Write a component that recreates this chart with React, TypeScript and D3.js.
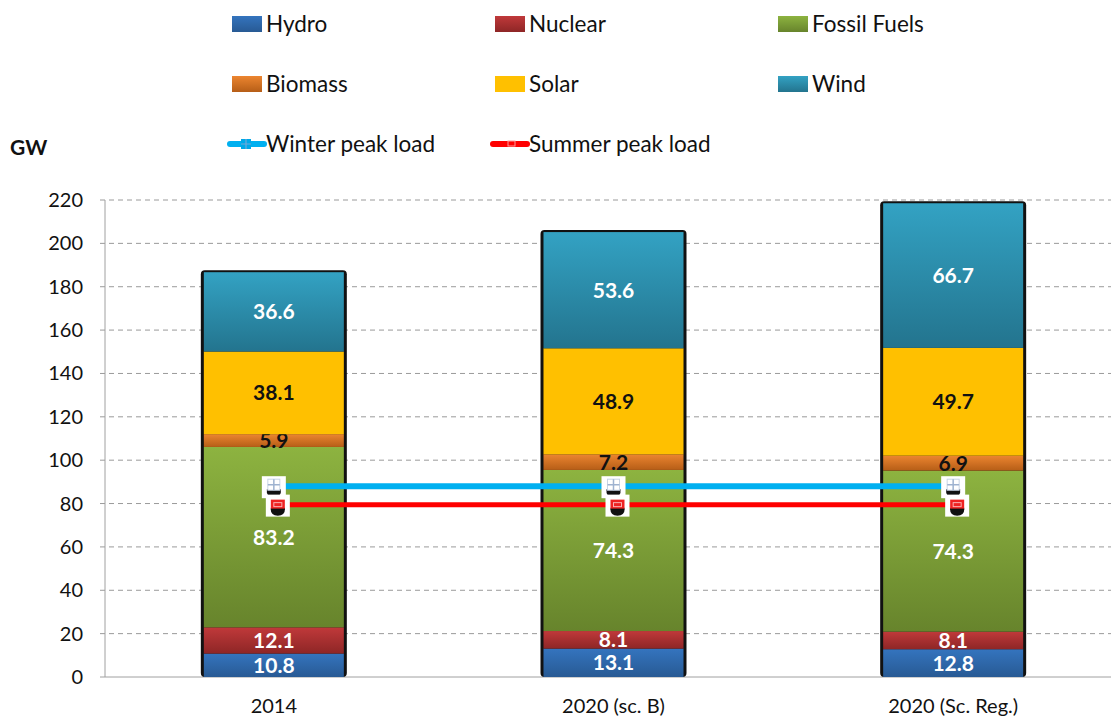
import React, { useEffect, useRef } from "react";
import * as d3 from "d3";

const categories = ["2014", "2020 (sc. B)", "2020 (Sc. Reg.)"];
const seriesNames = ["Hydro", "Nuclear", "Fossil Fuels", "Biomass", "Solar", "Wind"];
const hydro = [10.8, 13.1, 12.8];
const nuclear = [12.1, 8.1, 8.1];
const fossil = [83.2, 74.3, 74.3];
const biomass = [5.9, 7.2, 6.9];
const solar = [38.1, 48.9, 49.7];
const wind = [36.6, 53.6, 66.7];
const winterPeak = [88, 88, 88];
const summerPeak = [79.5, 79.5, 79.5];
const yTicks = [0, 20, 40, 60, 80, 100, 120, 140, 160, 180, 200, 220];

const colors: Record<string, [string, string]> = {
  Hydro: ["#3474BE", "#285A94"],
  Nuclear: ["#C0393A", "#8E2626"],
  "Fossil Fuels": ["#8DB340", "#67842C"],
  Biomass: ["#EC8530", "#B65E17"],
  Solar: ["#FFC000", "#FFC000"],
  Wind: ["#33A2C3", "#23748E"],
};
const labelColor: Record<string, string> = {
  Hydro: "#fff", Nuclear: "#fff", "Fossil Fuels": "#fff", Biomass: "#111", Solar: "#111", Wind: "#fff",
};

export default function App() {
  const ref = useRef<SVGSVGElement>(null);
  useEffect(() => {
    document.body.style.margin = "0";
    const svg = d3.select(ref.current!);
    svg.selectAll("*").remove();
    const font = "Lato, 'Open Sans', sans-serif";
    const data = [hydro, nuclear, fossil, biomass, solar, wind];
    const table = categories.map((c, i) => {
      const o: any = { cat: c };
      seriesNames.forEach((s, j) => (o[s] = data[j][i]));
      return o;
    });
    const stack = d3.stack<any>().keys(seriesNames)(table);

    const x = d3.scaleBand().domain(categories).range([104, 1123]).paddingInner(0).paddingOuter(0);
    const y = d3.scaleLinear().domain([0, 220]).range([677, 200]);
    const barW = 140;

    const defs = svg.append("defs");
    seriesNames.forEach((s, i) => {
      const g = defs.append("linearGradient").attr("id", "g" + i).attr("x1", 0).attr("x2", 0).attr("y1", 0).attr("y2", 1);
      g.append("stop").attr("offset", "0%").attr("stop-color", colors[s][0]);
      g.append("stop").attr("offset", "100%").attr("stop-color", colors[s][1]);
    });

    // grid
    svg.append("g").selectAll("line").data(yTicks.filter((t) => t > 0)).join("line")
      .attr("x1", 100).attr("x2", 1111).attr("y1", (d) => y(d)).attr("y2", (d) => y(d))
      .attr("stroke", "#9a9a9a").attr("stroke-dasharray", "5,4").attr("stroke-width", 1);
    // axes
    svg.append("line").attr("x1", 105).attr("x2", 105).attr("y1", y(220)).attr("y2", y(0)).attr("stroke", "#a0a0a0");
    svg.append("line").attr("x1", 100).attr("x2", 1111).attr("y1", y(0)).attr("y2", y(0)).attr("stroke", "#a0a0a0");
    svg.append("g").selectAll("text").data(yTicks).join("text")
      .attr("x", 83).attr("y", (d) => y(d)).attr("dy", "0.35em").attr("text-anchor", "end")
      .attr("font-family", font).attr("font-size", 20).attr("fill", "#111").text((d) => d);
    svg.append("g").selectAll("text").data(categories).join("text")
      .attr("x", (d) => x(d)! + x.bandwidth() / 2).attr("y", 713).attr("text-anchor", "middle")
      .attr("font-family", font).attr("font-size", 20).attr("fill", "#111").text((d) => d);

    // bar outlines
    const totals = table.map((r) => seriesNames.reduce((a, s) => a + r[s], 0));
    svg.append("g").selectAll("rect").data(categories).join("rect")
      .attr("x", (d) => x(d)! + x.bandwidth() / 2 - barW / 2 - 3)
      .attr("y", (d, i) => y(totals[i]) - 2)
      .attr("width", barW + 6)
      .attr("height", (d, i) => y(0) - y(totals[i]) + 2)
      .attr("rx", 4).attr("fill", "#111");

    stack.forEach((layer, li) => {
      const s = seriesNames[li];
      const g = svg.append("g");
      g.selectAll("rect").data(layer).join("rect")
        .attr("x", (d) => x(d.data.cat)! + x.bandwidth() / 2 - barW / 2)
        .attr("y", (d) => y(d[1]))
        .attr("width", barW)
        .attr("height", (d) => y(d[0]) - y(d[1]))
        .attr("fill", `url(#g${li})`);
      g.selectAll("text").data(layer).join("text")
        .attr("x", (d) => x(d.data.cat)! + x.bandwidth() / 2)
        .attr("y", (d) => (y(d[0]) + y(d[1])) / 2).attr("dy", "0.36em")
        .attr("text-anchor", "middle").attr("font-family", font).attr("font-weight", "bold")
        .attr("font-size", 21).attr("fill", labelColor[s])
        .text((d) => (d[1] - d[0]).toFixed(1));
    });

    // lines
    const cx = (i: number) => x(categories[i])! + x.bandwidth() / 2;
    const drawLine = (vals: number[], color: string, w: number, dx: number) => {
      const line = d3.line<number>().x((d, i) => cx(i) + dx).y((d) => y(d));
      svg.append("path").datum(vals).attr("d", line).attr("fill", "none").attr("stroke", color).attr("stroke-width", w);
    };
    drawLine(winterPeak, "#00B0F0", 6, 0);
    drawLine(summerPeak, "#FF0000", 5, 4);
    const drawMarker = (vals: number[], kind: string, dx: number) => {
      vals.forEach((v, i) => {
        const mx = cx(i) + dx, my = y(v);
        const g = svg.append("g").attr("transform", `translate(${mx},${my})`);
        g.append("rect").attr("x", -12).attr("y", -10).attr("width", 24).attr("height", 22).attr("fill", "#fff");
        g.append("path").attr("d", "M-7,3 Q-8,11 0,11 Q8,11 7,3 Z").attr("fill", "#111");
        if (kind === "plus") {
          g.append("rect").attr("x", -6).attr("y", -7).attr("width", 12).attr("height", 11).attr("fill", "#fff").attr("stroke", "#c8d4e4");
          g.append("path").attr("d", "M0,-7V4M-6,-1.5H6").attr("stroke", "#9fb3d0").attr("stroke-width", 1.5);
        } else {
          g.append("rect").attr("x", -7).attr("y", -5).attr("width", 14).attr("height", 9).attr("fill", "#ee2222");
          g.append("rect").attr("x", -4).attr("y", -2).attr("width", 8).attr("height", 4).attr("fill", "none").attr("stroke", "#f8b0b0");
        }
      });
    };
    drawMarker(winterPeak, "plus", 0);
    drawMarker(summerPeak, "rect", 4);

    // legend
    const cols = [232, 495, 778];
    const rows = [24, 84, 144];
    seriesNames.forEach((s, i) => {
      const lx = cols[i % 3], ly = rows[Math.floor(i / 3)];
      svg.append("rect").attr("x", lx).attr("y", ly - 8).attr("width", 30).attr("height", 16).attr("fill", `url(#g${i})`);
      svg.append("text").attr("x", lx + 34).attr("y", ly).attr("dy", "0.35em").attr("font-family", font)
        .attr("font-size", 22.5).attr("fill", "#111").text(s);
    });
    const lineLegend = [["Winter peak load", "#00B0F0", "plus"], ["Summer peak load", "#FF0000", "rect"]];
    lineLegend.forEach(([name, color, kind], i) => {
      const lx = cols[i], ly = rows[2];
      svg.append("line").attr("x1", lx - 2).attr("x2", lx + 32).attr("y1", ly).attr("y2", ly)
        .attr("stroke", color).attr("stroke-width", 6).attr("stroke-linecap", "round");
      if (kind === "plus") {
        svg.append("rect").attr("x", lx + 9).attr("y", ly - 5).attr("width", 10).attr("height", 10).attr("fill", "#00A8E8");
        svg.append("path").attr("d", `M${lx + 14},${ly - 5}V${ly + 5}M${lx + 9},${ly}H${lx + 19}`).attr("stroke", "#6fa8d8").attr("stroke-width", 1.2);
      } else {
        svg.append("rect").attr("x", lx + 13).attr("y", ly - 3).attr("width", 7).attr("height", 5).attr("fill", "none").attr("stroke", "#ff9a9a");
      }
      svg.append("text").attr("x", lx + 34).attr("y", ly).attr("dy", "0.35em").attr("font-family", font)
        .attr("font-size", 22.5).attr("fill", "#111").text(name);
    });

    svg.append("text").attr("x", 10).attr("y", 148).attr("dy", "0.35em").attr("font-family", font)
      .attr("font-weight", "bold").attr("font-size", 21).attr("fill", "#111").text("GW");
  }, []);
  return <svg ref={ref} width={1111} height={719} style={{ display: "block", background: "#fff" }} />;
}
